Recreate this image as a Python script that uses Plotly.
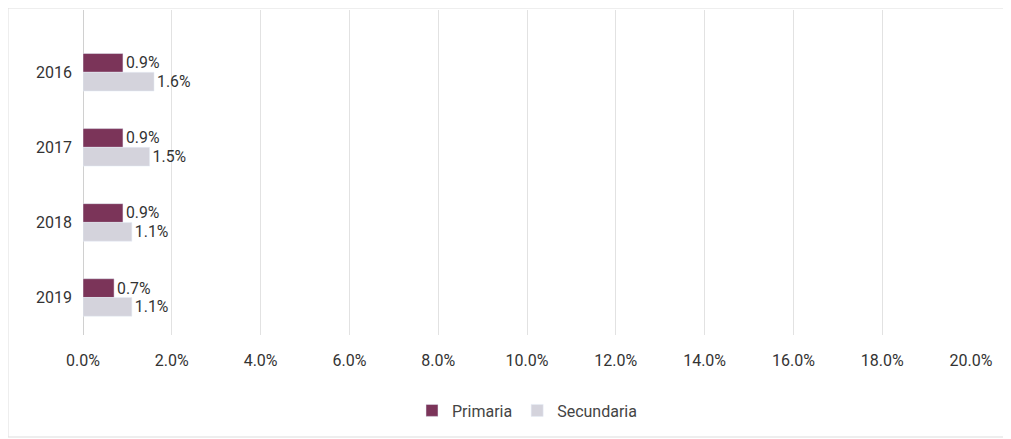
import plotly.graph_objects as go

anios = ['2016', '2017', '2018', '2019']
primaria = [0.9, 0.9, 0.9, 0.7]
secundaria = [1.6, 1.5, 1.1, 1.1]
ticks_x = [0, 2, 4, 6, 8, 10, 12, 14, 16, 18, 20]

col_prim = "#7b3459"
col_sec = "#d4d3dc"
fuente = "Roboto"

fig = go.Figure()
fig.add_trace(go.Bar(y=anios, x=primaria, name='Primaria', orientation='h',
                     marker=dict(color=col_prim),
                     text=["{:.1f}%".format(v) for v in primaria], textposition='outside',
                     textfont=dict(size=16, color='#333333', family=fuente), cliponaxis=False))
fig.add_trace(go.Bar(y=anios, x=secundaria, name='Secundaria', orientation='h',
                     marker=dict(color=col_sec),
                     text=["{:.1f}%".format(v) for v in secundaria], textposition='outside',
                     textfont=dict(size=16, color='#333333', family=fuente), cliponaxis=False))

# la pagina tiene 8px de margen en el body
fig.update_layout(width=1003, height=431, barmode='group', bargap=0.5, bargroupgap=0,
                  margin=dict(t=2, l=75, r=40, b=104, autoexpand=False),
                  paper_bgcolor='white', plot_bgcolor='white',
                  font=dict(family=fuente, size=16, color='#333333'),
                  xaxis=dict(range=[0, 20], tickvals=ticks_x, ticktext=["{:.1f}%".format(v) for v in ticks_x],
                             showgrid=True, gridcolor='#e2e2e2', gridwidth=1, zeroline=True,
                             zerolinecolor='#d0d0d0', zerolinewidth=1, showline=False, ticks='',
                             ticklabelstandoff=14, automargin=False),
                  yaxis=dict(autorange=False, range=[3.5, -0.83], showgrid=False, zeroline=False,
                             ticks='', ticklabelstandoff=10, automargin=False),
                  legend=dict(orientation='h', x=0.5, xanchor='center', y=-0.18, yanchor='top',
                              font=dict(size=16, color='#444444'), traceorder='normal'),
                  shapes=[dict(type='rect', xref='paper', yref='paper',
                               x0=-75/888, x1=922/888, y0=-102/325, y1=1 + 2/325,
                               line=dict(color='#dddddd', width=1))])

fig.write_html("out.html")
